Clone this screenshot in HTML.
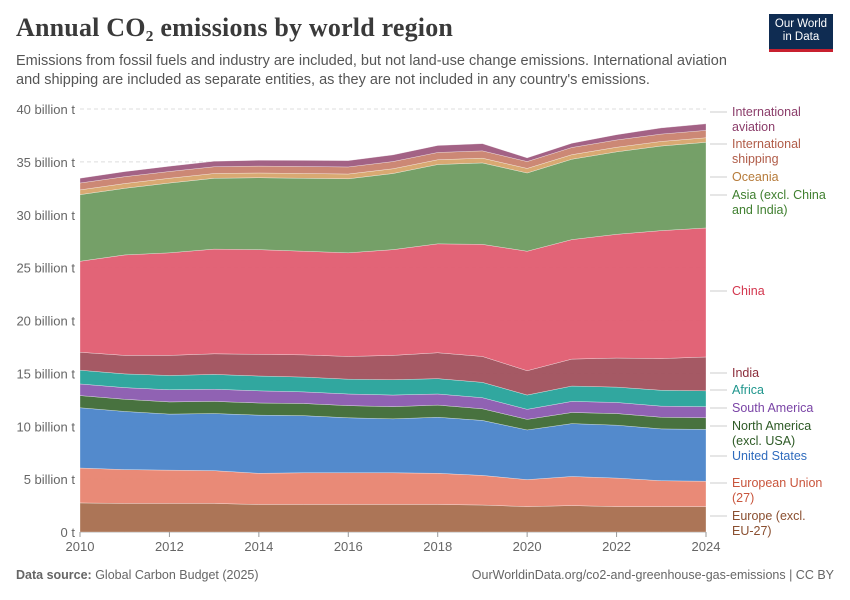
<!DOCTYPE html>
<html><head><meta charset="utf-8"><style>
body{margin:0;background:#fff;font-family:"Liberation Sans",sans-serif;}
#wrap{position:relative;width:850px;height:600px;overflow:hidden}
h1{position:absolute;left:16px;top:13px;margin:0;font-family:"Liberation Serif",serif;font-size:26px;font-weight:bold;color:#3a3a3a;letter-spacing:0.2px}
.sub{position:absolute;left:16px;top:52px;width:730px;font-size:14.5px;line-height:19px;color:#555}
.logo{position:absolute;left:769px;top:14px;width:64px;height:38px;background:#0f2c52;color:#fff;font-size:11.5px;line-height:13px;text-align:center;padding-top:4px;box-sizing:border-box;border-bottom:3px solid #c8202f}
.foot{position:absolute;top:568px;font-size:12.5px;color:#666}
</style></head><body><div id="wrap">
<h1>Annual CO₂ emissions by world region</h1>
<div class="sub">Emissions from fossil fuels and industry are included, but not land-use change emissions. International aviation and shipping are included as separate entities, as they are not included in any country's emissions.</div>
<div class="logo">Our World<br>in Data</div>
<svg id="chart" width="850" height="600" style="position:absolute;left:0;top:0"></svg>
<div class="foot" style="left:16px"><b>Data source:</b> Global Carbon Budget (2025)</div>
<div class="foot" style="right:16px">OurWorldinData.org/co2-and-greenhouse-gas-emissions | CC BY</div>
</div>
<script>
const years=[2010,2011,2012,2013,2014,2015,2016,2017,2018,2019,2020,2021,2022,2023,2024];
const europe=[2.75,2.7,2.7,2.7,2.6,2.6,2.6,2.6,2.6,2.55,2.4,2.5,2.4,2.4,2.4];
const eu27=[3.3,3.2,3.15,3.1,2.95,3.0,3.0,3.0,2.95,2.8,2.55,2.75,2.7,2.45,2.4];
const usa=[5.7,5.5,5.3,5.4,5.5,5.4,5.2,5.1,5.3,5.2,4.7,5.0,5.0,4.9,4.9];
const northAmerica=[1.15,1.15,1.15,1.15,1.15,1.15,1.15,1.15,1.15,1.1,1.0,1.05,1.1,1.1,1.1];
const southAmerica=[1.1,1.1,1.15,1.15,1.15,1.1,1.1,1.1,1.05,1.05,0.95,1.05,1.05,1.05,1.05];
const africa=[1.3,1.3,1.35,1.4,1.4,1.4,1.4,1.45,1.45,1.45,1.35,1.45,1.45,1.5,1.5];
const india=[1.7,1.75,1.9,1.95,2.05,2.1,2.15,2.3,2.45,2.45,2.3,2.55,2.75,3.0,3.2];
const china=[8.6,9.5,9.7,9.9,9.9,9.8,9.8,10.0,10.3,10.6,11.3,11.3,11.7,12.1,12.2];
const asia=[6.3,6.3,6.6,6.7,6.8,6.9,7.0,7.2,7.5,7.7,7.4,7.6,7.8,8.0,8.1];
const oceania=[0.45,0.45,0.45,0.45,0.45,0.45,0.45,0.45,0.45,0.45,0.43,0.43,0.43,0.43,0.43];
const shipping=[0.65,0.65,0.64,0.64,0.65,0.66,0.67,0.68,0.69,0.69,0.65,0.68,0.69,0.7,0.7];
const aviation=[0.45,0.48,0.5,0.52,0.55,0.58,0.6,0.63,0.66,0.68,0.35,0.4,0.5,0.58,0.62];
const yTicks=[0,5,10,15,20,25,30,35,40];
const xTicks=[2010,2012,2014,2016,2018,2020,2022,2024];
const series=[
 {name:'europe',vals:europe,fill:'#a86e4e',text:'#8a4f30',label:['Europe (excl.','EU-27)'],ly:520},
 {name:'eu27',vals:eu27,fill:'#e88470',text:'#c9553c',label:['European Union','(27)'],ly:487},
 {name:'usa',vals:usa,fill:'#4a84c9',text:'#2f6bbd',label:['United States'],ly:460},
 {name:'north-america',vals:northAmerica,fill:'#3e6a35',text:'#2d5a25',label:['North America','(excl. USA)'],ly:430},
 {name:'south-america',vals:southAmerica,fill:'#8a5aaf',text:'#7a44a6',label:['South America'],ly:412},
 {name:'africa',vals:africa,fill:'#26a29a',text:'#1e958c',label:['Africa'],ly:394},
 {name:'india',vals:india,fill:'#a0505c',text:'#8b2c3a',label:['India'],ly:377},
 {name:'china',vals:china,fill:'#e05c70',text:'#d3364e',label:['China'],ly:295},
 {name:'asia',vals:asia,fill:'#6e9b60',text:'#3f7f2f',label:['Asia (excl. China','and India)'],ly:199},
 {name:'oceania',vals:oceania,fill:'#d7a46a',text:'#b67b3a',label:['Oceania'],ly:181},
 {name:'shipping',vals:shipping,fill:'#c9826e',text:'#b05c48',label:['International','shipping'],ly:148},
 {name:'aviation',vals:aviation,fill:'#9e5a7e',text:'#8b3d6a',label:['International','aviation'],ly:116}
];
const NS='http://www.w3.org/2000/svg';
const svg=document.getElementById('chart');
const x=y=>80+(y-2010)*(706-80)/14;
const yv=v=>532-v*(532-109)/40;
function mk(t,a){const e=document.createElementNS(NS,t);for(const k in a)e.setAttribute(k,a[k]);svg.appendChild(e);return e;}
yTicks.forEach(t=>{
 const g=mk('line',{x1:80,x2:706,y1:yv(t),y2:yv(t),stroke:t===0?'#999':'#ddd','stroke-dasharray':t===0?'':'4,3'});
 
 
 const l=mk('text',{x:75,y:yv(t)+5,'text-anchor':'end','font-size':13,fill:'#666','font-family':'Liberation Sans'});
 l.textContent=t===0?'0 t':t+' billion t';
 
 
});
let base=years.map(()=>0);
series.forEach(s=>{
 const top=base.map((b,i)=>b+s.vals[i]);
 let d='M'+years.map((yr,i)=>x(yr)+','+yv(top[i])).join('L');
 for(let i=years.length-1;i>=0;i--)d+='L'+x(years[i])+','+yv(base[i]);
 const p=mk('path',{d:d+'Z',fill:s.fill,'fill-opacity':0.95,stroke:'#fff','stroke-width':0.3});
 
 
 mk('line',{x1:710,x2:727,y1:s.ly-4,y2:s.ly-4,stroke:'#bbb','stroke-width':0.8});
 const t=mk('text',{x:732,y:s.ly,'font-size':12.5,fill:s.text,'font-family':'Liberation Sans'});
 s.label.forEach((ln,k)=>{const ts=document.createElementNS(NS,'tspan');ts.setAttribute('x',732);ts.setAttribute('dy',k?15:0);ts.textContent=ln;t.appendChild(ts);});
 
 
 base=top;
});
xTicks.forEach(yr=>{
 mk('line',{x1:x(yr),x2:x(yr),y1:532,y2:537,stroke:'#999'});
 const l=mk('text',{x:x(yr),y:551,'text-anchor':'middle','font-size':13,fill:'#666','font-family':'Liberation Sans'});
 l.textContent=yr;
 
 
});
</script></body></html>
